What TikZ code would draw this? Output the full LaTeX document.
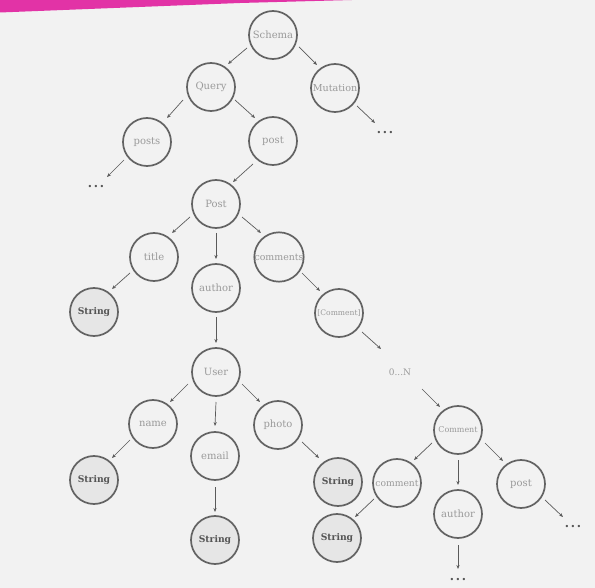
\documentclass[tikz,border=0pt]{standalone}
\usepackage{fontspec}
\setmainfont{DejaVu Serif}
\usetikzlibrary{arrows.meta,calc}
\definecolor{bgc}{HTML}{F2F2F2}
\definecolor{pinkc}{HTML}{E233A6}
\definecolor{ringc}{HTML}{636363}
\definecolor{arrc}{HTML}{5A5A5A}
\definecolor{txtc}{HTML}{9A9A9A}
\definecolor{strtxt}{HTML}{555555}
\definecolor{strfill}{HTML}{E6E6E6}
\tikzset{
  fld/.style={circle,draw=ringc,line width=1.7pt,minimum size=48pt,inner sep=0pt,
    text=txtc,font=\fontsize{10}{11}\selectfont},
  strnode/.style={fld,fill=strfill,text=strtxt,font=\fontsize{9.2}{10}\selectfont\bfseries},
  dotsnode/.style={text=strtxt,font=\fontsize{8}{8}\selectfont,inner sep=0pt},
  lbl/.style={text=txtc,font=\fontsize{9}{10}\selectfont,inner sep=0pt},
  arr/.style={draw=arrc,line width=0.7pt,-{Stealth[length=4pt,width=3.2pt]}}
}
\begin{document}
\begin{tikzpicture}[x=1pt,y=-1pt]
\fill[bgc] (0,0) rectangle (595,588);
\useasboundingbox (0,0) rectangle (595,588);
\fill[pinkc] (0,0) -- (352,0) -- (240,3) -- (0,12.5) -- cycle;

\node[fld] (Schema) at (273,35) {Schema};
\node[fld] (Query) at (211,87) {Query};
\node[fld,font=\fontsize{9.6}{10}\selectfont] (Mutation) at (335,88) {Mutation};
\node[fld] (posts) at (147,142) {posts};
\node[fld] (post) at (273,141) {post};
\node[dotsnode] (d1) at (96,187) {•\,•\,•};
\node[dotsnode] (d2) at (385,133) {•\,•\,•};
\node[fld] (Post) at (216,204) {Post};
\node[fld] (title) at (154,257) {title};
\node[fld] (author) at (216,288) {author};
\node[fld,font=\fontsize{9.4}{10}\selectfont] (comments) at (279,257) {comments};
\node[fld,font=\fontsize{7.6}{9}\selectfont] (lc) at (339,313) {[Comment]};
\node[strnode] (s1) at (94,312) {String};
\node[lbl] (zn) at (400,372) {0...N};
\node[fld] (User) at (216,372) {User};
\node[fld] (name) at (153,424) {name};
\node[fld] (email) at (215,456) {email};
\node[fld] (photo) at (278,425) {photo};
\node[strnode] (s2) at (94,480) {String};
\node[strnode] (s3) at (215,540) {String};
\node[strnode] (s4) at (338,482) {String};
\node[fld,font=\fontsize{8}{9}\selectfont] (Comment) at (458,430) {Comment};
\node[fld,font=\fontsize{9.2}{10}\selectfont] (comment) at (397,483) {comment};
\node[fld] (author2) at (458,514) {author};
\node[fld] (post2) at (521,484) {post};
\node[strnode] (s5) at (337,538) {String};
\node[dotsnode] (d3) at (458,580) {•\,•\,•};
\node[dotsnode] (d4) at (573,527) {•\,•\,•};

% connectors
\draw[arr] ($(Schema)+(-26,13)$) -- ($(Query)+(17,-23)$);
\draw[arr] ($(Schema)+(26,12)$) -- ($(Mutation)+(-18,-23)$);
\draw[arr] ($(Query)+(-28,13)$) -- ($(posts)+(20,-24)$);
\draw[arr] ($(Query)+(24,13)$) -- ($(post)+(-18,-23)$);
\draw[arr] ($(Mutation)+(22,18)$) -- ($(d2)+(-10,-10)$);
\draw[arr] ($(posts)+(-23,18)$) -- ($(d1)+(11,-10)$);
\draw[arr] ($(post)+(-20,23)$) -- ($(Post)+(17,-22)$);
\draw[arr] ($(Post)+(-26,13)$) -- ($(title)+(18,-24)$);
\draw[arr] ($(Post)+(0,29)$) -- ($(author)+(0,-29)$);
\draw[arr] ($(Post)+(26,13)$) -- ($(comments)+(-18,-24)$);
\draw[arr] ($(title)+(-24,16)$) -- ($(s1)+(18,-23)$);
\draw[arr] ($(comments)+(23,16)$) -- ($(lc)+(-19,-22)$);
\draw[arr] ($(lc)+(23,19)$) -- ($(zn)+(-19,-23)$);
\draw[arr] ($(zn)+(22,17)$) -- ($(Comment)+(-18,-23)$);
\draw[arr] ($(author)+(0,29)$) -- ($(User)+(0,-29)$);
\draw[arr] ($(User)+(-28,12)$) -- ($(name)+(17,-22)$);
\draw[arr] ($(User)+(0,30)$) -- ($(email)+(0,-30)$);
\draw[arr] ($(User)+(26,12)$) -- ($(photo)+(-18,-23)$);
\draw[arr] ($(name)+(-23,16)$) -- ($(s2)+(18,-22)$);
\draw[arr] ($(email)+(0,31)$) -- ($(s3)+(0,-28)$);
\draw[arr] ($(photo)+(24,17)$) -- ($(s4)+(-19,-24)$);
\draw[arr] ($(Comment)+(-26,13)$) -- ($(comment)+(17,-23)$);
\draw[arr] ($(Comment)+(0,30)$) -- ($(author2)+(0,-29)$);
\draw[arr] ($(Comment)+(27,13)$) -- ($(post2)+(-18,-23)$);
\draw[arr] ($(comment)+(-23,16)$) -- ($(s5)+(18,-21)$);
\draw[arr] ($(author2)+(0,31)$) -- ($(d3)+(0,-11)$);
\draw[arr] ($(post2)+(24,16)$) -- ($(d4)+(-10,-10)$);
\end{tikzpicture}
\end{document}
